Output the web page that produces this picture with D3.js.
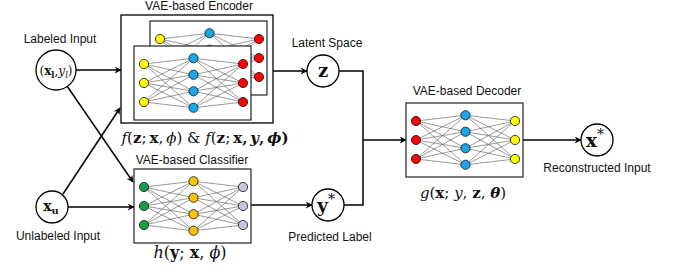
<!DOCTYPE html>
<html>
<head>
<meta charset="utf-8">
<script src="https://cdn.jsdelivr.net/npm/d3@7"></script>
<style>
  body { margin: 0; background: #fff; }
  text.lbl { font-family: "Liberation Sans", Arial, sans-serif; font-size: 12px; fill: #111; }
  text.math { font-family: "DejaVu Serif", "Liberation Serif", serif; fill: #111; }
</style>
</head>
<body>
<div id="fig"></div>
<script>
var width = 674,
  height = 273;

// network shape and node colours
var layerSizes = [3, 4, 3];
var encoderColors = ["#ffff00", "#1ba6ea", "#ff0000"];
var classifierColors = ["#1a9d4b", "#fdc10a", "#cbc4de"];
var decoderColors = ["#ff0000", "#1ba6ea", "#ffff00"];

var titles = ["VAE-based Encoder", "VAE-based Classifier", "VAE-based Decoder"];
var captions = ["Labeled Input", "Unlabeled Input", "Latent Space", "Predicted Label", "Reconstructed Input"];

var svg = d3.select("#fig").append("svg")
  .attr("width", width)
  .attr("height", height);

svg.append("defs").append("marker")
  .attr("id", "arr")
  .attr("viewBox", "0 0 10 10")
  .attr("refX", 9).attr("refY", 5)
  .attr("markerWidth", 8).attr("markerHeight", 7)
  .attr("markerUnits", "userSpaceOnUse")
  .attr("orient", "auto")
  .append("path")
  .attr("d", "M0,0 L10,5 L0,10 L3,5 z")
  .attr("fill", "#000");

var boxW = 117, boxH = 74;
var layerX = d3.scalePoint().domain(d3.range(layerSizes.length)).range([10, 109]);
var spread = { 3: 19, 4: 24.75 };

// draw a small 3-4-3 network inside a box whose top-left is (x0, y0)
function network(g, x0, y0, colors) {
  g.append("rect")
    .attr("x", x0).attr("y", y0)
    .attr("width", boxW).attr("height", boxH)
    .attr("fill", "#fff").attr("stroke", "#222").attr("stroke-width", 1.2);

  var cy = y0 + boxH / 2;
  var layers = layerSizes.map(function(n, li) {
    var ys = d3.scalePoint().domain(d3.range(n)).range([-spread[n], spread[n]]);
    return d3.range(n).map(function(i) {
      return { x: x0 + layerX(li), y: cy + ys(i), c: colors[li] };
    });
  });

  var links = [];
  for (var l = 0; l < layers.length - 1; l++) {
    layers[l].forEach(function(a) {
      layers[l + 1].forEach(function(b) { links.push([a, b]); });
    });
  }

  g.selectAll(null).data(links).enter().append("line")
    .attr("x1", function(d) { return d[0].x; })
    .attr("y1", function(d) { return d[0].y; })
    .attr("x2", function(d) { return d[1].x; })
    .attr("y2", function(d) { return d[1].y; })
    .attr("stroke", "#555").attr("stroke-width", 0.6);

  g.selectAll(null).data(d3.merge(layers)).enter().append("circle")
    .attr("cx", function(d) { return d.x; })
    .attr("cy", function(d) { return d.y; })
    .attr("r", 4.6)
    .attr("fill", function(d) { return d.c; })
    .attr("stroke", "#111").attr("stroke-width", 0.8);
}

// math text built from [text, style] parts
function math(x, y, size, parts) {
  var t = svg.append("text").attr("class", "math")
    .attr("x", x).attr("y", y)
    .attr("text-anchor", "middle")
    .attr("font-size", size);
  parts.forEach(function(p) {
    var s = p[1] || "r";
    var ts = t.append("tspan").text(p[0]);
    if (s.indexOf("b") >= 0) ts.attr("font-weight", "bold");
    if (s.indexOf("i") >= 0) ts.attr("font-style", "italic");
    if (s.indexOf("_") >= 0) ts.attr("dy", size * 0.22).attr("font-size", size * 0.7);
    if (s.indexOf("^") >= 0) ts.attr("dy", -size * 0.4).attr("font-size", size * 0.75);
    if (s.indexOf(">") >= 0) ts.attr("dy", -size * 0.22);
    if (s.indexOf("<") >= 0) ts.attr("dy", size * 0.4);
  });
  return t;
}

function label(x, y, s) {
  svg.append("text").attr("class", "lbl")
    .attr("x", x).attr("y", y)
    .attr("text-anchor", "middle")
    .text(s);
}

function node(x, y, r) {
  svg.append("circle")
    .attr("cx", x).attr("cy", y).attr("r", r)
    .attr("fill", "#fff").attr("stroke", "#000").attr("stroke-width", 1.3);
}

function arrow(pts, head) {
  svg.append("path")
    .attr("d", d3.line()(pts))
    .attr("fill", "none")
    .attr("stroke", "#000").attr("stroke-width", 1.5)
    .attr("marker-end", head === false ? null : "url(#arr)");
}

// connectors
arrow([[76, 70], [121, 70]]);
arrow([[67, 86], [133, 182]]);
arrow([[63, 194], [120, 108]]);
arrow([[68, 207], [134, 207]]);
arrow([[273, 71], [307, 71]]);
arrow([[251, 205], [312, 205]]);
arrow([[339, 71], [363, 71], [363, 205], [344, 205]], false);
arrow([[363, 140], [406, 140]]);
arrow([[523, 140], [581, 140]]);

// encoder: outer frame plus two stacked networks
svg.append("rect")
  .attr("x", 121).attr("y", 15)
  .attr("width", 152).attr("height", 108)
  .attr("fill", "#fff").attr("stroke", "#000").attr("stroke-width", 1.3);
network(svg.append("g"), 150, 21, encoderColors);
network(svg.append("g"), 134, 46, encoderColors);

network(svg.append("g"), 134, 169, classifierColors);
network(svg.append("g"), 406, 103, decoderColors);

// variable nodes
node(56, 70, 20);
node(52, 207, 16);
node(323, 71, 16);
node(328, 205, 16);
node(597, 140, 16);

var th = "\u2009";
math(56, 75, 12, [["("], ["x", "b"], ["l", "b_"], [",", ">"], ["y", "i"], ["l", "i_"], [")", ">"]]);
math(51, 211, 14, [["x", "b"], ["u", "b_"]]);
math(323, 77, 18, [["z", "b"]]);
math(326, 212, 19, [["y", "b"], ["*", "^"]]);
math(595, 147, 19, [["x", "b"], ["*", "^"]]);

// titles and captions
label(199, 10, titles[0]);
label(192, 164, titles[1]);
label(467, 95, titles[2]);
label(60, 43, captions[0]);
label(58, 240, captions[1]);
label(327, 47, captions[2]);
label(330, 241, captions[3]);
label(597, 172, captions[4]);

// function formulas
math(205, 143, 15, [["f", "i"], ["("], ["z", "b"], [";" + th], ["x", "b"], ["," + th], ["ϕ", "i"], [")"],
  [" & "], ["f", "i"], ["("], ["z", "b"], [";" + th], ["x", "b"], ["," + th, "b"], ["y", "bi"], ["," + th, "b"], ["ϕ", "bi"], [")", "b"]]);
math(190, 258, 16, [["h", "i"], ["("], ["y", "b"], ["; "], ["x", "b"], [", "], ["ϕ", "i"], [")"]]);
math(463, 198, 15, [["g", "i"], ["("], ["x", "b"], ["; "], ["y", "i"], [", "], ["z", "b"], [", "], ["θ", "bi"], [")"]]);
</script>
</body>
</html>
